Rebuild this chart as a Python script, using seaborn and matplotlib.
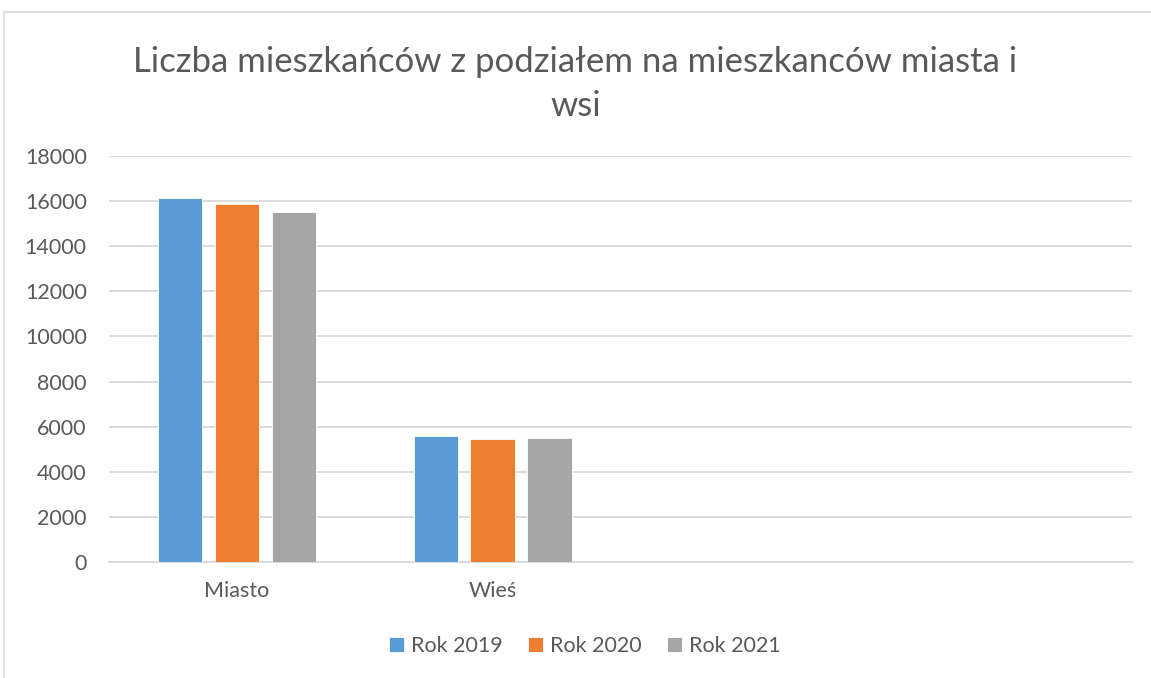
import pandas as pd
import seaborn as sns
import matplotlib.pyplot as plt
from matplotlib.lines import Line2D

categories = ['Miasto', 'Wieś']
series = ['Rok 2019', 'Rok 2020', 'Rok 2021']
values_2019 = [16120, 5590]
values_2020 = [15870, 5440]
values_2021 = [15520, 5480]
colors = ['#5B9BD5', '#ED7D31', '#A5A5A5']

data = pd.DataFrame({
    'Kategoria': categories * 3,
    'Seria': [s for s in series for _ in categories],
    'Liczba': values_2019 + values_2020 + values_2021,
})

sns.set_style('white')
plt.rcParams['font.family'] = ['Lato', 'DejaVu Sans']

fig = plt.figure(figsize=(11.51, 6.78), dpi=100)
ax = fig.add_axes([0.0947, 0.1711, 0.8888, 0.5988])

sns.barplot(data=data, x='Kategoria', y='Liczba', hue='Seria', order=categories,
            hue_order=series, palette=colors, saturation=1, width=0.666, gap=0.22,
            edgecolor='white', linewidth=0.6, ax=ax, zorder=3)

ax.set_xlim(-0.5, 3.5)
ax.set_ylim(0, 18000)
ax.set_yticks(range(0, 18001, 2000))
ax.yaxis.grid(True, color='#D9D9D9', linewidth=1.3, zorder=0)
ax.set_axisbelow(True)
for side in ['left', 'right', 'top']:
    ax.spines[side].set_visible(False)
ax.spines['bottom'].set_color('#D9D9D9')
ax.spines['bottom'].set_linewidth(1.3)
ax.tick_params(axis='both', length=0, labelsize=15.5, colors='#595959')
ax.tick_params(axis='y', pad=16)
ax.tick_params(axis='x', pad=14)
ax.set_xlabel('')
ax.set_ylabel('')

fig.text(0.5, 0.909, 'Liczba mieszkańców z podziałem na mieszkanców miasta i',
         ha='center', va='center', fontsize=25, color='#595959')
fig.text(0.5, 0.843, 'wsi', ha='center', va='center', fontsize=25, color='#595959')

handles, labels = ax.get_legend_handles_labels()
ax.legend(handles, labels, loc='center', bbox_to_anchor=(0.508, 0.047),
          bbox_transform=fig.transFigure, ncol=3, frameon=False, fontsize=15.5,
          labelcolor='#595959', handlelength=0.7, handleheight=0.7,
          handletextpad=0.3, columnspacing=1.2)

# ramka wykresu
fig.add_artist(Line2D([4 / 1151, 1], [1 - 12 / 678, 1 - 12 / 678], color='#D9D9D9', linewidth=1.2))
fig.add_artist(Line2D([4 / 1151, 4 / 1151], [0, 1 - 12 / 678], color='#D9D9D9', linewidth=1.2))

plt.savefig('out.png', dpi=100)
plt.close()
